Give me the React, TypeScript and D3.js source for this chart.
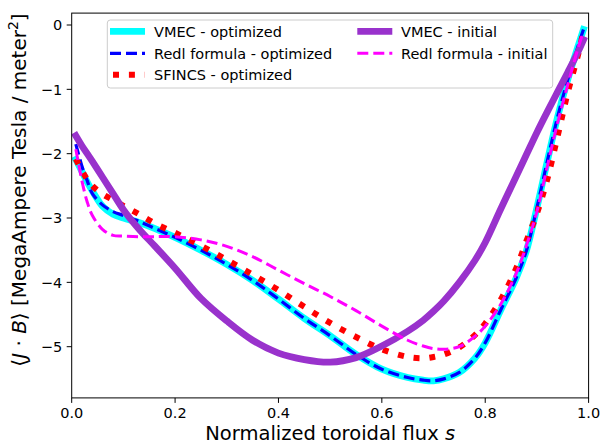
import * as d3 from "d3";
import React from "react";

// normalized toroidal flux grid shared by all profiles
const sGrid = [
  0.008, 0.02, 0.03, 0.04, 0.06, 0.08, 0.1, 0.13, 0.16, 0.2, 0.25, 0.3, 0.35, 0.4,
  0.45, 0.5, 0.55, 0.6, 0.65, 0.68, 0.7, 0.72, 0.75, 0.78, 0.8, 0.83, 0.86, 0.88,
  0.9, 0.92, 0.94, 0.96, 0.98, 0.99,
];

const vmecOptimized = [
  -2.09, -2.28, -2.44, -2.58, -2.82, -2.94, -3.0, -3.07, -3.16, -3.3, -3.5, -3.72, -3.97,
  -4.26, -4.56, -4.83, -5.12, -5.35, -5.48, -5.52, -5.53, -5.5, -5.4, -5.18, -4.94, -4.43,
  -3.93, -3.5, -2.84, -2.12, -1.43, -0.84, -0.32, -0.07,
];

const redlOptimized = [
  -1.85, -2.2, -2.42, -2.62, -2.8, -2.9, -2.96, -3.05, -3.16, -3.3, -3.5, -3.72, -3.97,
  -4.26, -4.56, -4.83, -5.12, -5.35, -5.48, -5.52, -5.53, -5.5, -5.4, -5.18, -4.94, -4.43,
  -3.93, -3.5, -2.84, -2.12, -1.43, -0.84, -0.32, -0.07,
];

const sfincsOptimized = [
  -2.08, -2.27, -2.4, -2.5, -2.63, -2.72, -2.81, -2.94, -3.08, -3.23, -3.43, -3.65, -3.88,
  -4.12, -4.38, -4.63, -4.85, -5.04, -5.16, -5.18, -5.16, -5.12, -5.01, -4.82, -4.64, -4.27,
  -3.78, -3.35, -2.93, -2.4, -1.73, -1.04, -0.45, -0.11,
];

const vmecInitial = [
  -1.72, -1.88, -2.0, -2.12, -2.37, -2.62, -2.87, -3.17, -3.43, -3.78, -4.25, -4.6, -4.9,
  -5.1, -5.2, -5.24, -5.17, -4.99, -4.76, -4.59, -4.45, -4.29, -4.0, -3.66, -3.38, -2.86,
  -2.35, -2.01, -1.67, -1.35, -1.04, -0.73, -0.41, -0.23,
];

const redlInitial = [
  -1.93, -2.43, -2.75, -2.96, -3.18, -3.27, -3.28, -3.29, -3.29, -3.29, -3.34, -3.44, -3.6,
  -3.81, -4.02, -4.22, -4.44, -4.68, -4.9, -4.99, -5.03, -5.04, -5.0, -4.84, -4.68, -4.34,
  -3.86, -3.42, -2.9, -2.2, -1.52, -0.92, -0.35, -0.1,
];

const xTicks = [0, 0.2, 0.4, 0.6, 0.8, 1.0];
const yTicks = [0, -1, -2, -3, -4, -5];

const series = [
  { name: "VMEC - optimized", values: vmecOptimized, color: "#00ffff", width: 6.8, dash: null, cap: "square" },
  { name: "Redl formula - optimized", values: redlOptimized, color: "#0000ff", width: 3.2, dash: "11,5", cap: "butt" },
  { name: "SFINCS - optimized", values: sfincsOptimized, color: "#ff0000", width: 6, dash: "6,9.9", cap: "butt" },
  { name: "VMEC - initial", values: vmecInitial, color: "#9932cc", width: 6.8, dash: null, cap: "square" },
  { name: "Redl formula - initial", values: redlInitial, color: "#ff00ff", width: 3, dash: "11,5", cap: "butt" },
];

const FONT = "DejaVu Sans, sans-serif";

export default function App() {
  const width = 602;
  const height = 444;
  const left = 71.7, right = 588.6, top = 13.1, bottom = 397.9;

  const x = d3.scaleLinear().domain([0, 1]).range([left, right]);
  const y = d3.scaleLinear().domain([-5.796, 0.185]).range([bottom, top]);

  const line = d3
    .line<number>()
    .x((_, i) => x(sGrid[i]))
    .y((d) => y(d))
    .curve(d3.curveCatmullRom.alpha(0.5));

  const legendRows = [
    { s: series[0], lx: 110, tx: 154, cy: 31.3 },
    { s: series[1], lx: 110, tx: 154, cy: 53.3 },
    { s: series[2], lx: 110, tx: 154, cy: 74.7 },
    { s: series[3], lx: 357.3, tx: 401, cy: 31.3 },
    { s: series[4], lx: 357.3, tx: 401, cy: 53.3 },
  ];

  return (
    <svg
      width={width}
      height={height}
      style={{ position: "absolute", left: 0, top: 0, background: "#fff" }}
      fontFamily={FONT}
    >
      <defs>
        <clipPath id="plot-clip">
          <rect x={left} y={top} width={right - left} height={bottom - top} />
        </clipPath>
      </defs>

      {/* curves */}
      <g clipPath="url(#plot-clip)">
        {series.map((s) => (
          <path
            key={s.name}
            d={line(s.values) ?? ""}
            fill="none"
            stroke={s.color}
            strokeWidth={s.width}
            strokeDasharray={s.dash ?? undefined}
            strokeLinecap={s.cap as any}
            strokeLinejoin="round"
          />
        ))}
      </g>

      {/* frame */}
      <rect x={left} y={top} width={right - left} height={bottom - top} fill="none" stroke="#000" strokeWidth={1} />

      {/* x axis */}
      {xTicks.map((t) => (
        <g key={t} transform={`translate(${x(t)},${bottom})`}>
          <line y2={5} stroke="#000" strokeWidth={1} />
          <text y={19.8} textAnchor="middle" fontSize={14.5} fill="#000">
            {d3.format(".1f")(t)}
          </text>
        </g>
      ))}

      {/* y axis */}
      {yTicks.map((t) => (
        <g key={t} transform={`translate(${left},${y(t)})`}>
          <line x2={-5} stroke="#000" strokeWidth={1} />
          <text x={-9.5} dy="0.36em" textAnchor="end" fontSize={14.5} fill="#000">
            {d3.format("d")(t)}
          </text>
        </g>
      ))}

      {/* axis labels */}
      <text x={(left + right) / 2} y={439.5} textAnchor="middle" fontSize={19.5} fill="#000">
        Normalized toroidal flux <tspan fontStyle="italic">s</tspan>
      </text>
      <text transform="translate(26,190) rotate(-90)" textAnchor="middle" fontSize={20} fill="#000">
        {"⟨"}
        <tspan fontStyle="italic">J</tspan>
        {" · "}
        <tspan fontStyle="italic">B</tspan>
        {"⟩ [MegaAmpere Tesla / meter"}
        <tspan fontSize={14} dy={-8}>2</tspan>
        <tspan dy={8}>]</tspan>
      </text>

      {/* legend */}
      <rect x={107.3} y={20} width={445.4} height={68} rx={3} fill="#fff" fillOpacity={0.8} stroke="#cccccc" strokeWidth={1} />
      {legendRows.map(({ s, lx, tx, cy }) => (
        <g key={s.name}>
          <line
            x1={lx}
            x2={lx + 35}
            y1={cy}
            y2={cy}
            stroke={s.color}
            strokeWidth={s.width}
            strokeDasharray={s.dash ?? undefined}
            strokeDashoffset={s.name.startsWith("SFINCS") ? -3 : 0}
            strokeLinecap="butt"
          />
          <text x={tx} y={cy} dy="0.36em" fontSize={14.5} fill="#000">
            {s.name}
          </text>
        </g>
      ))}
    </svg>
  );
}
